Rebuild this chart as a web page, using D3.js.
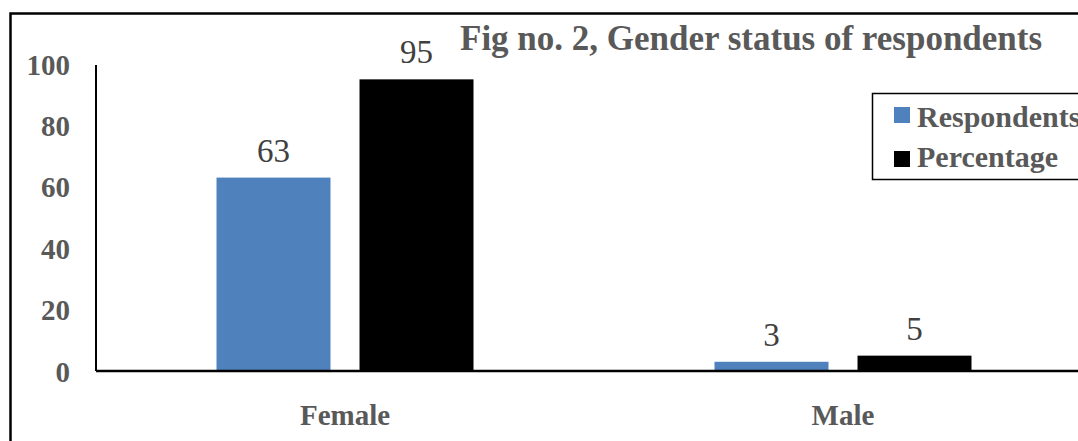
<!DOCTYPE html>
<html><head><meta charset="utf-8">
<script src="https://cdn.jsdelivr.net/npm/d3@7"></script>
<style>body{margin:0;background:#fff;}svg{display:block;}</style>
</head><body>
<script>
const categories = ["Female", "Male"];
const seriesNames = ["Respondents", "Percentage"];
const respondents = [63, 3];
const percentage = [95, 5];
const yTicks = [0, 20, 40, 60, 80, 100];
const title = "Fig no. 2, Gender status of respondents";
const colors = ["#4F81BD", "#000000"];

const W = 1078, H = 441;
const svg = d3.select("body").append("svg").attr("width", W).attr("height", H);
const serif = "'Liberation Serif','Times New Roman',serif";
const gray = "#595959";

// outer border (left + top visible)
svg.append("path").attr("d", "M10.5,441 V13.5 H1078").attr("fill", "none").attr("stroke", "#000").attr("stroke-width", 2.5);

const x0 = d3.scaleBand().domain(categories).range([96, 1092]);
const x1 = d3.scaleBand().domain(seriesNames).range([0, 257]).paddingInner(0.203);
const y = d3.scaleLinear().domain([0, 100]).range([371, 64]);

const data = categories.map((c, i) => ({cat: c, vals: [respondents[i], percentage[i]]}));

const groups = svg.selectAll("g.grp").data(data).join("g")
  .attr("transform", d => `translate(${x0(d.cat) + x0.bandwidth()/2 - 128.5},0)`);
groups.selectAll("rect").data(d => d.vals.map((v, j) => ({v, s: seriesNames[j], j}))).join("rect")
  .attr("x", d => x1(d.s)).attr("width", x1.bandwidth())
  .attr("y", d => y(d.v)).attr("height", d => y(0) - y(d.v))
  .attr("fill", d => colors[d.j]);
groups.selectAll("text.val").data(d => d.vals.map((v, j) => ({v, s: seriesNames[j], j}))).join("text")
  .attr("class", "val")
  .attr("x", d => x1(d.s) + x1.bandwidth()/2).attr("y", d => y(d.v) - 16)
  .attr("text-anchor", "middle").attr("font-family", serif).attr("font-size", 33)
  .attr("fill", "#404040").text(d => d.v);

// y axis
const yAxis = d3.axisLeft(y).tickValues(yTicks).tickSize(0).tickPadding(26);
const ya = svg.append("g").attr("transform", "translate(96,0)").call(yAxis);
ya.select(".domain").attr("stroke", "#000").attr("stroke-width", 2).attr("d", `M0,65V${y(0)}`);
ya.selectAll("text").attr("font-family", serif).attr("font-size", 29).attr("font-weight", "bold").attr("fill", gray).attr("dy", "0.35em");

// x axis baseline
const xAxis = d3.axisBottom(x0).tickSize(0).tickPadding(33);
const xa = svg.append("g").attr("transform", `translate(0,${y(0)})`).call(xAxis);
xa.select(".domain").attr("stroke", "#000").attr("stroke-width", 2.5).attr("d", `M96,0H1078`);
xa.selectAll("text").attr("font-family", serif).attr("font-size", 29).attr("font-weight", "bold").attr("fill", gray);

// title
svg.append("text").attr("x", 460).attr("y", 50).attr("font-family", serif).attr("font-size", 35)
  .attr("font-weight", "bold").attr("fill", gray).text(title);

// legend
const lg = svg.append("g");
lg.append("rect").attr("x", 872.5).attr("y", 93.5).attr("width", 230).attr("height", 86)
  .attr("fill", "#fff").attr("stroke", "#000").attr("stroke-width", 1.5);
seriesNames.forEach((s, i) => {
  lg.append("rect").attr("x", 894).attr("y", 107 + i*44).attr("width", 16).attr("height", 16).attr("fill", colors[i]);
  lg.append("text").attr("x", 917).attr("y", 127 + i*40).attr("font-family", serif).attr("font-size", 30)
    .attr("font-weight", "bold").attr("fill", gray).text(s);
});
</script>
</body></html>
